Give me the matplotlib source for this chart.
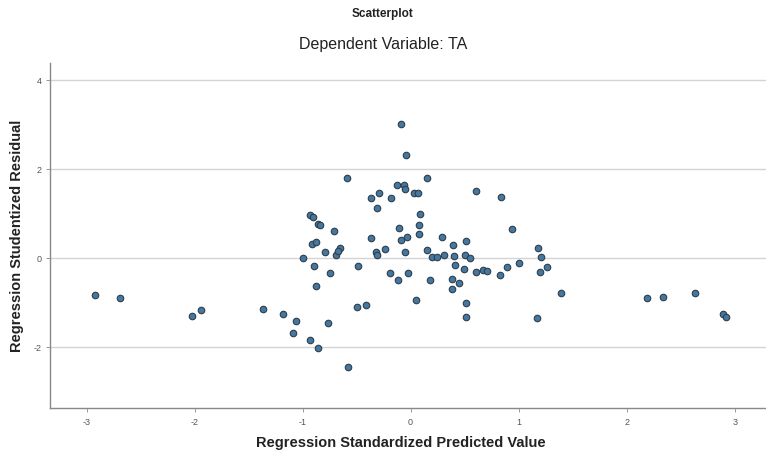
import matplotlib
matplotlib.use("Agg")
import matplotlib.pyplot as plt

plt.rcParams['font.family'] = ['Liberation Sans', 'DejaVu Sans']

title = "Scatterplot"
subtitle = "Dependent Variable: TA"
xlabel = "Regression Standardized Predicted Value"
ylabel = "Regression Studentized Residual"
xticks = [-3, -2, -1, 0, 1, 2, 3]
yticks = [-2, 0, 2, 4]

pred = [-2.92, -2.69, -2.02, -1.94, -1.37, -1.18, -1.06, -1.09, -0.93, -0.86,
        -0.76, -0.58, -0.50, -0.41, -0.89, -0.75, -0.88, -0.49, -0.19, -0.71,
        -0.37, -0.09, -0.03, 0.08, 0.29, 0.39, 0.51, -0.91, -0.88, -0.79,
        -0.65, -0.69, -0.67, -1.00, -0.32, -0.31, -0.24, -0.05, 0.15, 0.20,
        0.24, 0.31, 0.40, 0.50, 0.55, -0.12, -0.02, 0.18, 0.41, 0.49,
        0.38, 0.38, 0.45, 0.05, 0.51, 0.51, -0.09, -0.04, -0.59, 0.15,
        -0.13, -0.06, -0.05, 0.03, 0.07, 0.61, 0.84, -0.37, -0.29, -0.18,
        -0.31, 0.09, -0.93, -0.90, -0.86, -0.84, -0.11, 0.08, 0.94, 1.18,
        1.21, 0.61, 0.67, 0.71, 0.83, 0.89, 1.00, 1.20, 1.26, 1.17,
        1.39, 2.19, 2.34, 2.63, 2.89, 2.92]
resid = [-0.82, -0.89, -1.29, -1.17, -1.15, -1.26, -1.42, -1.69, -1.84, -2.02,
         -1.46, -2.45, -1.09, -1.05, -0.18, -0.34, -0.63, -0.18, -0.34, 0.61,
         0.45, 0.40, 0.47, 0.54, 0.47, 0.29, 0.38, 0.31, 0.36, 0.13,
         0.22, 0.07, 0.16, 0.00, 0.13, 0.07, 0.20, 0.13, 0.18, 0.02,
         0.02, 0.07, 0.04, 0.07, 0.00, -0.49, -0.34, -0.49, -0.16, -0.25,
         -0.47, -0.70, -0.56, -0.94, -1.01, -1.33, 3.01, 2.31, 1.80, 1.80,
         1.64, 1.64, 1.55, 1.46, 1.46, 1.51, 1.37, 1.35, 1.46, 1.35,
         1.12, 0.99, 0.97, 0.92, 0.76, 0.74, 0.67, 0.74, 0.65, 0.22,
         0.02, -0.31, -0.27, -0.29, -0.38, -0.20, -0.11, -0.31, -0.20, -1.35,
         -0.79, -0.90, -0.88, -0.79, -1.26, -1.33]

fig = plt.figure(figsize=(7.66, 4.54), dpi=100)
ax = fig.add_axes([0.065, 0.101, 0.935, 0.760])

ax.scatter(pred, resid, s=22, facecolor='#4578a0', edgecolor='#2e3d4a',
           linewidths=0.8, zorder=3)

ax.set_xlim(-3.34, 3.29)
ax.set_ylim(-3.37, 4.38)
ax.set_xticks(xticks)
ax.set_yticks(yticks)
ax.set_xticklabels([str(t) for t in xticks], fontsize=6.5, color='#555555')
ax.set_yticklabels([str(t) for t in yticks], fontsize=6.5, color='#555555')
ax.tick_params(axis='both', length=3, width=0.6, color='#888888', pad=4)
ax.tick_params(axis='y', pad=3)
ax.grid(axis='y', color='#d4d4d4', linewidth=1.0, zorder=0)
ax.set_axisbelow(True)
for side in ['top', 'right']:
    ax.spines[side].set_visible(False)
for side in ['left', 'bottom']:
    ax.spines[side].set_color('#888888')
    ax.spines[side].set_linewidth(1.0)

ax.set_xlabel(xlabel, fontsize=10.5, fontweight='bold', color='#222222')
ax.set_ylabel(ylabel, fontsize=10.5, fontweight='bold', color='#222222')
ax.xaxis.set_label_coords(0.49, -0.101)
ax.xaxis.label.set_va('center')
ax.yaxis.set_label_coords(-0.046, 0.5)
ax.yaxis.label.set_va('center')

fig.text(0.5, 1 - 14 / 454, title, ha='center', va='center', fontsize=8.5,
         fontweight='bold', color='#222222')
fig.text(0.5, 1 - 44 / 454, subtitle, ha='center', va='center', fontsize=11.5,
         color='#222222')

fig.savefig("out.png", dpi=100)
